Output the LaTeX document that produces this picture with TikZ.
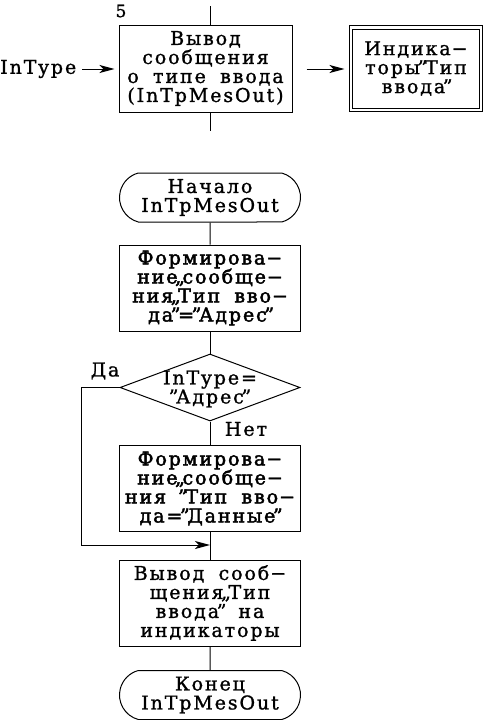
\documentclass[tikz,border=0pt]{standalone}
\usepackage{fontspec}
\setmainfont{DejaVu Serif}[LetterSpace=10,FakeBold=1.2,WordSpace=1.8]
\newfontfamily\boldish{DejaVu Serif}[LetterSpace=10,FakeBold=2.4,WordSpace=1.8]
\usetikzlibrary{shapes.geometric,shapes.misc,arrows.meta}
\newcommand\Qr{\makebox[5pt][c]{”}}
\newcommand\Ql{\makebox[5pt][c]{„}}
\newcommand\Hy{\kern1pt−}
\tikzset{
  txt/.style={font=\fontsize{19}{19}\selectfont, align=center, inner sep=0pt},
  btxt/.style={font=\boldish\fontsize{19}{19}\selectfont, align=center, inner sep=0pt},
  ln/.style={line width=1pt},
  box/.style={draw, ln, minimum width=181pt, minimum height=86pt},
  term/.style={draw, ln, rounded rectangle, rounded rectangle arc length=150,
    minimum width=181pt, minimum height=49pt, txt},
  arr/.style={ln, -{Stealth[length=15pt,width=8pt,inset=4pt]}}
}
\begin{document}
\begin{tikzpicture}[x=1pt,y=1pt]
\useasboundingbox (0,0) rectangle (485,-720);
% top part
\node[box, txt, minimum width=173pt, minimum height=87pt] (out) at (205.5,-68.5)
  {Вывод\\сообщения\\о типе ввода\\(InTpMesOut)};
\coordinate (o1) at (210,-6);
\coordinate (o2) at (210,-131);
\draw[ln] (o1) -- (o1 |- out.north);
\draw[ln] (o2 |- out.south) -- (o2);
\node[inner sep=0pt, font=\fontsize{17}{17}\selectfont] (five) at (121,-11) {5};
\node[txt, anchor=west] (intype) at (0,-69) {InType};
\draw[arr, shorten <=6pt, shorten >=4pt] (intype.east) -- (intype.east -| out.west);
\node[draw, ln, double, double distance=2.5pt, minimum width=130pt, minimum height=82.5pt, txt]
  (ind) at (416,-68.5) {Индика\Hy\\торы\Qr Тип\\ввода\Qr};
\draw[arr, shorten <=14pt, shorten >=6pt] (out.east |- intype) -- (ind.west |- intype);
% flowchart
\node[term] (start) at (210,-197.5) {Начало\\InTpMesOut};
\node[box, btxt] (b1) at (210,-288) {Формирова\Hy\\ние\Ql сообще\Hy\\ния\Ql Тип вво\Hy\\да\Qr=\Qr Адрес\Qr};
\node[diamond, draw, ln, minimum width=180pt, minimum height=67pt, inner sep=0pt] (dec) at (210,-387.5) {};
\node[txt] (dectxt) at (210,-389) {InType=\\\Qr Адрес\Qr};
\node[txt] (da) at (105,-371) {Да};
\node[txt] (net) at (246,-429) {Нет};
\node[box, btxt] (b2) at (210,-488.5) {Формирова\Hy\\ние\Ql сообще\Hy\\ния \Qr Тип вво\Hy\\да=\Qr Данные\Qr};
\node[box, txt] (b3) at (210,-603) {Вывод сооб\Hy\\щения\Ql Тип\\ввода\Qr{} на\\индикаторы};
\node[term] (end) at (210,-695) {Конец\\InTpMesOut};
\draw[ln] (start) -- (b1);
\draw[ln] (b1) -- (dec);
\draw[ln] (dec) -- (b2);
\draw[ln] (b2) -- (b3);
\draw[ln] (b3) -- (end);
\coordinate (l1) at (81,-387.5);
\coordinate (l2) at (81,-545);
\draw[arr] (dec.west) -- (l1) -- (l2) -- (l2 -| dec.south);
\end{tikzpicture}
\end{document}
